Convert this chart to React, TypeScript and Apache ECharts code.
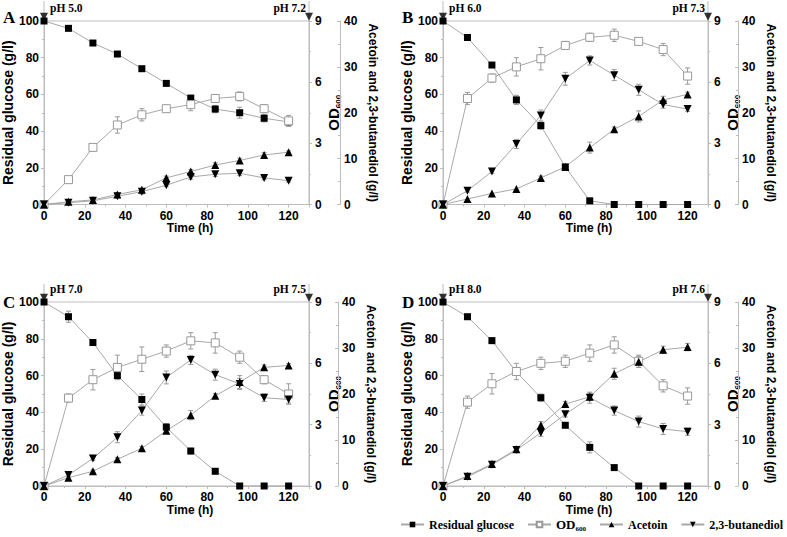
import React, { useEffect, useRef } from 'react';
import * as echarts from 'echarts';

const times = [0, 12, 24, 36, 48, 60, 72, 84, 96, 108, 120];
const panelLetters = ['A', 'B', 'C', 'D'];
const phStart = ['pH 5.0', 'pH 6.0', 'pH 7.0', 'pH 8.0'];
const phEnd = ['pH 7.2', 'pH 7.3', 'pH 7.5', 'pH 7.6'];
const seriesNames = ['Residual glucose', 'OD600', 'Acetoin', '2,3-butanediol'];

// Panel A (pH 5.0)
const glucoseA = [100, 96, 88, 82, 74, 66, 58, 52, 50, 47, 45];
const odA = [0, 1.22, 2.8, 3.9, 4.4, 4.7, 4.9, 5.2, 5.3, 4.7, 4.1];
const acetoinA = [0, 0.6, 1.0, 2.2, 3.2, 5.8, 7.2, 8.6, 9.6, 10.8, 11.4];
const bdoA = [0, 0.4, 0.8, 1.8, 2.8, 4.2, 6.0, 6.6, 6.8, 5.8, 5.2];
const glucoseErrA = [0, 0, 1, 1, 0, 0, 0, 2, 3, 2, 1];
const odErrA = [0, 0, 0, 0.4, 0.3, 0.1, 0.3, 0.1, 0.22, 0.2, 0.27];
const acetoinErrA = [0, 0, 0, 0.3, 0.3, 0.4, 0.4, 0.5, 0.5, 0.5, 0.3];
const bdoErrA = [0, 0, 0.3, 0.4, 0.5, 0.3, 0.5, 0.5, 0.5, 0.4, 0.3];

// Panel B (pH 6.0)
const glucoseB = [100, 91, 76, 57, 43, 20.5, 2, 0, 0, 0, 0];
const odB = [0, 5.2, 6.2, 6.75, 7.15, 7.8, 8.2, 8.3, 8.0, 7.6, 6.3];
const acetoinB = [0, 1.2, 2.4, 3.4, 5.8, 8.2, 12.4, 16.4, 19.2, 22.8, 24.0];
const bdoB = [0, 3.0, 7.2, 13.2, 19.4, 27.4, 31.4, 28.2, 25.0, 21.8, 20.8];
const glucoseErrB = [0, 1.5, 1, 2.5, 2, 1, 0, 0, 0, 0, 0];
const odErrB = [0, 0.3, 0.2, 0.45, 0.55, 0.2, 0.2, 0.3, 0.1, 0.3, 0.4];
const acetoinErrB = [0, 0, 0, 0, 0.4, 0.4, 1.2, 0.5, 1.2, 0.8, 0.5];
const bdoErrB = [0, 0.3, 0.4, 1.0, 1.2, 1.4, 1.0, 1.2, 1.2, 0.8, 0.5];

// Panel C (pH 7.0)
const glucoseC = [100, 92, 78, 60, 47, 32, 19, 8, 0, 0, 0];
const odC = [0, 4.3, 5.2, 5.8, 6.2, 6.6, 7.1, 7.0, 6.3, 5.2, 4.5];
const acetoinC = [0, 1.8, 3.2, 5.8, 8.2, 12.0, 15.4, 19.6, 22.6, 25.8, 26.2];
const bdoC = [0, 2.4, 6.0, 10.6, 16.4, 23.6, 27.4, 24.2, 22.2, 19.2, 18.8];
const glucoseErrC = [0, 3, 1, 1, 3, 2, 1.5, 0, 0, 0, 0];
const odErrC = [0, 0.2, 0.5, 0.6, 0.6, 0.3, 0.4, 0.5, 0.3, 0.2, 0.5];
const acetoinErrC = [0, 0.4, 0.3, 0.4, 0.4, 0.5, 1.0, 0.5, 1.4, 0.5, 0.4];
const bdoErrC = [0, 0.4, 0.4, 1.2, 1.0, 1.4, 1.0, 1.2, 1.2, 0.8, 0.8];

// Panel D (pH 8.0)
const glucoseD = [100, 92, 79, 62, 48, 33, 21, 10, 0, 0, 0];
const odD = [0, 4.1, 5.0, 5.6, 6.0, 6.1, 6.5, 6.9, 6.1, 4.9, 4.4];
const acetoinD = [0, 2.2, 4.8, 8.0, 13.2, 17.8, 19.4, 24.4, 27.0, 29.6, 30.2];
const bdoD = [0, 2.0, 4.6, 7.8, 11.6, 15.6, 19.2, 16.4, 14.0, 12.4, 11.8];
const glucoseErrD = [0, 1, 1.5, 1, 2, 1, 3, 0, 0, 0, 0];
const odErrD = [0, 0.3, 0.5, 0.4, 0.3, 0.3, 0.4, 0.4, 0.3, 0.3, 0.4];
const acetoinErrD = [0, 0.4, 0.4, 0.5, 0.8, 0.6, 0.8, 1.2, 1.2, 0.8, 0.8];
const bdoErrD = [0, 0.4, 0.5, 0.5, 0.8, 0.6, 1.2, 1.0, 1.2, 1.2, 0.8];

const panelData = [
  { g: glucoseA, od: odA, ac: acetoinA, bd: bdoA, eg: glucoseErrA, eod: odErrA, eac: acetoinErrA, ebd: bdoErrA },
  { g: glucoseB, od: odB, ac: acetoinB, bd: bdoB, eg: glucoseErrB, eod: odErrB, eac: acetoinErrB, ebd: bdoErrB },
  { g: glucoseC, od: odC, ac: acetoinC, bd: bdoC, eg: glucoseErrC, eod: odErrC, eac: acetoinErrC, ebd: bdoErrC },
  { g: glucoseD, od: odD, ac: acetoinD, bd: bdoD, eg: glucoseErrD, eod: odErrD, eac: acetoinErrD, ebd: bdoErrD },
];

const layouts = [
  { left: 44, top: 21, width: 265, height: 183.5, offset: 31, letterY: 17 },
  { left: 443, top: 21, width: 265, height: 183.5, offset: 30, letterY: 17 },
  { left: 44, top: 302, width: 265, height: 184, offset: 29, letterY: 302 },
  { left: 443, top: 302, width: 265, height: 184, offset: 30, letterY: 302 },
];

const SANS = '"Liberation Sans", Arial, sans-serif';
const SERIF = '"Liberation Serif", "Times New Roman", serif';
const AXIS_GREY = '#bdbdbd';
const LINE_GREY = '#a8a8a8';

export default function App() {
  const ref = useRef<HTMLDivElement>(null);

  useEffect(() => {
    if (!ref.current) return;
    const chart = echarts.init(ref.current, undefined, { renderer: 'svg' });

    const grids: any[] = [];
    const xAxes: any[] = [];
    const yAxes: any[] = [];
    const series: any[] = [];
    const graphics: any[] = [];

    const tickLabel = { color: '#000', fontFamily: SANS, fontWeight: 'bold', fontSize: 12 };
    const axisLine = { show: true, lineStyle: { color: AXIS_GREY, width: 1 } };
    const axisTick = { show: true, length: 3, lineStyle: { color: AXIS_GREY } };
    const minorTick = { show: true, splitNumber: 2, length: 2, lineStyle: { color: AXIS_GREY } };

    const errRender = (params: any, api: any) => {
      const x = api.value(0);
      const y = api.value(1);
      const e = api.value(2);
      const t = api.coord([x, y + e]);
      const b = api.coord([x, y - e]);
      const w = 2.5;
      const st = { stroke: '#9a9a9a', lineWidth: 1 };
      return {
        type: 'group',
        children: [
          { type: 'line', shape: { x1: t[0], y1: t[1], x2: b[0], y2: b[1] }, style: st },
          { type: 'line', shape: { x1: t[0] - w, y1: t[1], x2: t[0] + w, y2: t[1] }, style: st },
          { type: 'line', shape: { x1: b[0] - w, y1: b[1], x2: b[0] + w, y2: b[1] }, style: st },
        ],
      };
    };

    layouts.forEach((L, i) => {
      const d = panelData[i];
      grids.push({
        left: L.left, top: L.top, width: L.width, height: L.height,
        show: true, borderColor: AXIS_GREY, borderWidth: 1, backgroundColor: 'transparent',
      });
      xAxes.push({
        gridIndex: i, type: 'value', min: 0, max: 130, interval: 20,
        name: 'Time (h)', nameLocation: 'middle', nameGap: 17,
        nameTextStyle: { color: '#000', fontFamily: SANS, fontWeight: 'bold', fontSize: 12, padding: [0, 0, 0, 27] },
        axisLine, axisTick, minorTick, splitLine: { show: false },
        axisLabel: { ...tickLabel, margin: 5, showMaxLabel: false },
      });
      const yBase = i * 3;
      yAxes.push({
        gridIndex: i, type: 'value', position: 'left', min: 0, max: 100, interval: 20,
        name: 'Residual glucose (g/l)', nameLocation: 'middle', nameGap: 21,
        nameTextStyle: { color: '#000', fontFamily: SANS, fontWeight: 'bold', fontSize: 14 },
        axisLine, axisTick, minorTick, splitLine: { show: false },
        axisLabel: { ...tickLabel, margin: 5 },
      });
      yAxes.push({
        gridIndex: i, type: 'value', position: 'right', min: 0, max: 9, interval: 3,
        name: '{a|OD}{b|600}', nameLocation: 'middle', nameGap: 5,
        nameTextStyle: {
          color: '#000', fontFamily: SANS,
          rich: {
            a: { fontFamily: SANS, fontWeight: 'bold', fontSize: 15, color: '#000' },
            b: { fontFamily: SANS, fontWeight: 'bold', fontSize: 8, color: '#000', padding: [10, 0, 0, 0] },
          },
        },
        axisLine, axisTick, minorTick, splitLine: { show: false },
        axisLabel: { ...tickLabel, margin: 6 },
      });
      yAxes.push({
        gridIndex: i, type: 'value', position: 'right', offset: L.offset, min: 0, max: 40, interval: 10,
        name: 'Acetoin and 2,3-butanediol (g/l)', nameLocation: 'middle', nameGap: 27, nameRotate: -90,
        nameTextStyle: { color: '#000', fontFamily: SANS, fontWeight: 'bold', fontSize: 12 },
        axisLine, axisTick: { ...axisTick, inside: true }, minorTick, splitLine: { show: false },
        axisLabel: { ...tickLabel, margin: 4 },
      });

      const mk = (vals: number[]) => times.map((t, k) => [t, vals[k]]);
      const mkErr = (vals: number[], errs: number[]) =>
        times.map((t, k) => [t, vals[k], errs[k]]).filter((p) => p[2] > 0);

      const errSets = [
        [d.g, d.eg, 0], [d.od, d.eod, 1], [d.ac, d.eac, 2], [d.bd, d.ebd, 2],
      ] as const;
      errSets.forEach(([v, e, ax]) => {
        series.push({
          type: 'custom', xAxisIndex: i, yAxisIndex: yBase + (ax as number), silent: true,
          renderItem: errRender, data: mkErr(v as number[], e as number[]), encode: { x: 0, y: 1 }, z: 1,
        });
      });

      const common = { type: 'line', xAxisIndex: i, lineStyle: { color: LINE_GREY, width: 1 }, z: 3, showSymbol: true };
      series.push({
        ...common, name: seriesNames[0], yAxisIndex: yBase, data: mk(d.g),
        symbol: 'rect', symbolSize: 7, itemStyle: { color: '#000' },
      });
      series.push({
        ...common, name: seriesNames[1], yAxisIndex: yBase + 1, data: mk(d.od),
        symbol: 'rect', symbolSize: 8, itemStyle: { color: '#fff', borderColor: '#999', borderWidth: 1 },
      });
      series.push({
        ...common, name: seriesNames[2], yAxisIndex: yBase + 2, data: mk(d.ac),
        symbol: 'triangle', symbolSize: 8, itemStyle: { color: '#000' },
      });
      series.push({
        ...common, name: seriesNames[3], yAxisIndex: yBase + 2, data: mk(d.bd),
        symbol: 'triangle', symbolRotate: 180, symbolSize: 8, itemStyle: { color: '#000' },
      });
      // pH markers above the plot
      series.push({
        type: 'scatter', name: 'pH', xAxisIndex: i, yAxisIndex: yBase, clip: false, silent: true,
        data: [[0, 102.3], [130, 102.3]], symbol: 'triangle', symbolRotate: 180, symbolSize: 8,
        itemStyle: { color: '#000' }, z: 5,
      });

      // decorations: axis extensions, letters, pH texts
      const ext = i < 2 ? 20 : 18;
      graphics.push({ type: 'line', silent: true, shape: { x1: L.left, y1: L.top - ext, x2: L.left, y2: L.top }, style: { stroke: AXIS_GREY, lineWidth: 1 } });
      graphics.push({ type: 'line', silent: true, shape: { x1: L.left + L.width, y1: L.top - ext, x2: L.left + L.width, y2: L.top }, style: { stroke: AXIS_GREY, lineWidth: 1 } });
      graphics.push({
        type: 'text', left: L.left - 41, top: L.letterY - 8,
        style: { text: panelLetters[i], font: `bold 17px ${SERIF}`, fill: '#000' },
      });
      graphics.push({
        type: 'text', x: L.left + 6, y: L.top - 13,
        style: { text: phStart[i], font: `bold 11.5px ${SERIF}`, fill: '#000', verticalAlign: 'middle', align: 'left' },
      });
      graphics.push({
        type: 'text', x: L.left + L.width - 3, y: L.top - 13,
        style: { text: phEnd[i], font: `bold 11.5px ${SERIF}`, fill: '#000', verticalAlign: 'middle', align: 'right' },
      });
    });

    chart.setOption({
      animation: false,
      backgroundColor: '#fff',
      grid: grids,
      xAxis: xAxes,
      yAxis: yAxes,
      series,
      graphic: graphics,
      legend: {
        data: seriesNames,
        left: 400, top: 518,
        itemWidth: 23, itemHeight: 7, itemGap: 13,
        padding: 0,
        selectedMode: false,
        textStyle: {
          color: '#000', fontFamily: SERIF, fontWeight: 'bold', fontSize: 12,
          rich: {
            n: { fontFamily: SERIF, fontWeight: 'bold', fontSize: 12, color: '#000' },
            a: { fontFamily: SERIF, fontWeight: 'bold', fontSize: 13, color: '#000' },
            b: { fontFamily: SERIF, fontWeight: 'bold', fontSize: 7, color: '#000', padding: [8, 0, 0, 0] },
          },
        },
        formatter: (name: string) => (name === 'OD600' ? '{a|OD}{b|600}' : '{n|' + name + '}'),
      },
    });

    return () => chart.dispose();
  }, []);

  return <div ref={ref} style={{ position: 'fixed', left: 0, top: 0, width: 787, height: 537 }} />;
}
